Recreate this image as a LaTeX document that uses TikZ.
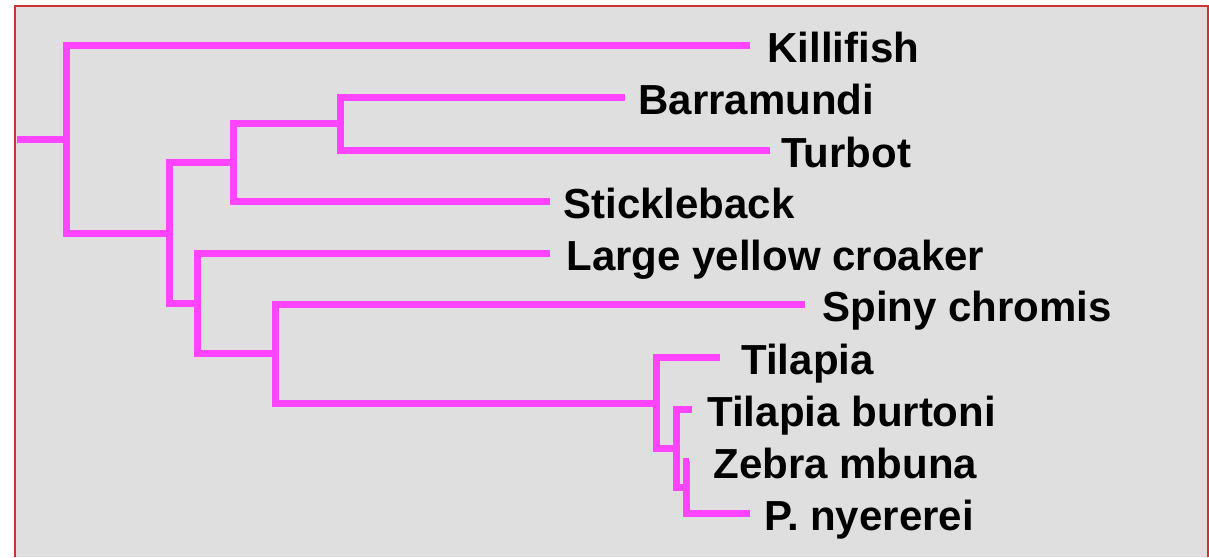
\documentclass[tikz,border=0pt]{standalone}
\usepackage{fontspec}
\setmainfont{Liberation Sans}
\definecolor{branchpink}{HTML}{FF44FF}
\definecolor{panelgray}{HTML}{DFDFDF}
\definecolor{framered}{HTML}{CC3333}

\begin{document}
\begin{tikzpicture}[x=0.5pt, y=-0.5pt,
	branch/.style={draw=branchpink, line width=3.5pt},
	fish/.style={anchor=base west, inner sep=0pt, font=\fontsize{21}{25}\selectfont\bfseries}]
	\useasboundingbox (0, 0) rectangle (1209, 557);
	\fill[panelgray] (15, 6) rectangle (1208, 557);
	\draw[framered, line width=1pt] (15, 557) -- (15, 6) -- (1208, 6) -- (1208, 557);

	% Define the inner nodes of the tree
	\coordinate (root) at (17, 139);
	\coordinate (n0) at (66, 139);
	\coordinate (n1) at (169, 233);
	\coordinate (n2) at (233, 162);
	\coordinate (n3) at (340, 123);
	\coordinate (n4) at (197, 303);
	\coordinate (n5) at (275, 353);
	\coordinate (n6) at (656, 403);
	\coordinate (n7) at (676, 448);
	\coordinate (n8) at (686, 487);

	% Define the tips with specific positions
	\coordinate (t1) at (750, 45);
	\coordinate (t2) at (625, 97);
	\coordinate (t3) at (770, 150);
	\coordinate (t4) at (550, 201);
	\coordinate (t5) at (550, 253);
	\coordinate (t6) at (805, 304);
	\coordinate (t7) at (720, 357);
	\coordinate (t8) at (692, 409);
	\coordinate (t9) at (689, 461);
	\coordinate (t10) at (750, 513);

	% Labels of the tips
	\node[fish] (killifish) at (767, 62) {Killifish};
	\node[fish] (barramundi) at (638, 114) {Barramundi};
	\node[fish] (turbot) at (781, 167) {Turbot};
	\node[fish] (stickleback) at (563, 218) {Stickleback};
	\node[fish] (croaker) at (566, 270) {Large yellow croaker};
	\node[fish] (chromis) at (822, 321) {Spiny chromis};
	\node[fish] (tilapia) at (741, 374) {Tilapia};
	\node[fish] (burtoni) at (707, 426) {Tilapia burtoni};
	\node[fish] (mbuna) at (713, 478) {Zebra mbuna};
	\node[fish] (nyererei) at (764, 530) {P. nyererei};

	% Draw the branches
	\draw[branch] (root) -- (n0);
	\draw[branch] (n0) |- (t1);
	\draw[branch] (n0) |- (n1);
	\draw[branch] (n1) |- (n2);
	\draw[branch] (n1) |- (n4);
	\draw[branch] (n2) |- (n3);
	\draw[branch] (n2) |- (t4);
	\draw[branch] (n3) |- (t2);
	\draw[branch] (n3) |- (t3);
	\draw[branch] (n4) |- (t5);
	\draw[branch] (n4) |- (n5);
	\draw[branch] (n5) |- (t6);
	\draw[branch] (n5) |- (n6);
	\draw[branch] (n6) |- (t7);
	\draw[branch] (n6) |- (n7);
	\draw[branch] (n7) |- (t8);
	\draw[branch] (n7) |- (n8);
	\draw[branch] (n8) |- (t9);
	\draw[branch] (n8) |- (t10);
\end{tikzpicture}
\end{document}
